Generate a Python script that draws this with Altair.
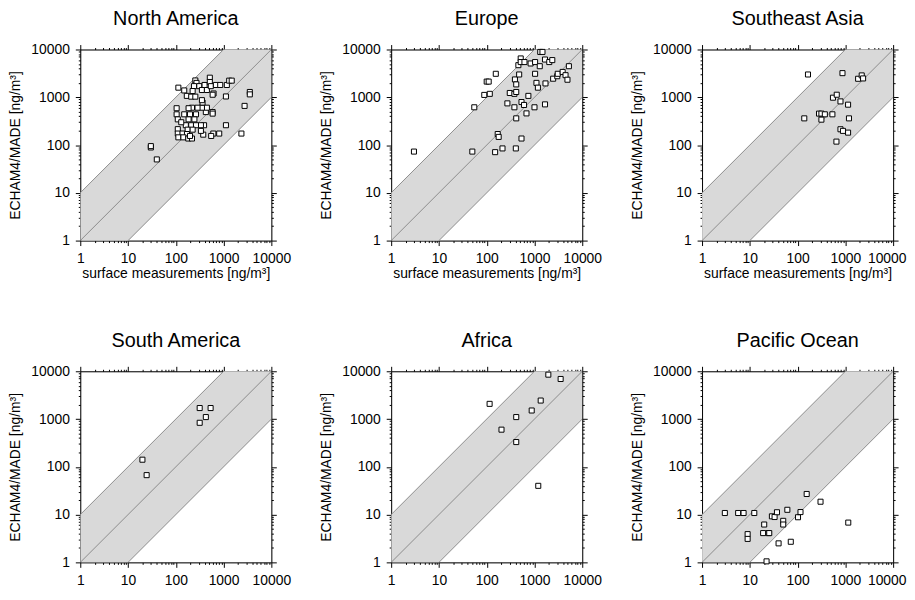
import altair as alt
import pandas as pd

regions = ["North America", "Europe", "Southeast Asia",
           "South America", "Africa", "Pacific Ocean"]

na_x = [30, 30, 40, 113, 150, 256, 271, 240, 225, 310, 352, 400, 447, 515, 515, 540,
        617, 590, 690, 850, 1170, 1310, 1480, 1120, 3540, 3540, 2750, 2360, 1120, 810,
        610, 550, 375, 335, 390, 335, 590, 590, 425, 447, 352, 363, 352, 285, 218, 185,
        104, 104, 110, 150, 198, 264, 185, 245, 162, 210, 264, 177, 225, 110, 110, 138,
        171, 113, 144, 182, 218, 198, 130, 170, 210, 256]
na_y = [89, 95, 50, 1590, 1390, 2250, 2000, 1710, 1350, 1710, 1420, 1810, 1420, 2570, 2090, 1710,
        1200, 1130, 1810, 1810, 1810, 2230, 2230, 1040, 1290, 1150, 660, 174, 260, 174,
        174, 155, 165, 198, 260, 260, 490, 455, 490, 605, 605, 775, 870, 605, 605, 590,
        590, 440, 345, 440, 440, 440, 345, 345, 260, 260, 260, 210, 210, 215, 174, 174,
        170, 145, 145, 137, 137, 155, 300, 1070, 1030, 1030]

eu_x = [3.0, 50, 55, 89, 116, 100, 110, 155, 170, 178, 150, 214, 407, 535, 271, 304,
        380, 415, 390, 415, 478, 460, 515, 515, 617, 380, 415, 535, 605, 680, 745, 830,
        1000, 1030, 1030, 1100, 1180, 1290, 1320, 1470, 1660, 1660, 1700, 2040, 2360,
        2460, 3000, 3070, 3890, 4470, 4900, 5250]
eu_y = [73, 73, 617, 1120, 1180, 2130, 2130, 3100, 170, 148, 71, 85, 85, 137, 745, 1230,
        1180, 1290, 2360, 1860, 3000, 4700, 6500, 5460, 5460, 617, 362, 795, 690, 460, 1070, 5100,
        617, 5460, 3100, 2000, 1590, 4470, 8900, 8900, 6170, 710, 1950, 5460, 6000,
        2450, 2760, 3100, 3390, 2900, 2330, 4470]

sea_x = [165, 138, 281, 315, 372, 315, 535, 550, 660, 790, 870, 1140, 1190, 790, 890,
         1140, 650, 1850, 2200, 2350]
sea_y = [3000, 362, 455, 455, 440, 340, 440, 980, 1130, 820, 3200, 700, 362, 214, 198,
         182, 118, 2440, 2870, 2480]

sa_x = [20, 24.5, 316, 316, 425, 535]
sa_y = [141, 67, 1700, 835, 1100, 1700]

af_x = [115, 204, 415, 415, 875, 1350, 1950, 3530, 1200]
af_y = [2080, 600, 1100, 330, 1510, 2440, 8500, 6900, 40]

po_x = [3.0, 5.7, 7.4, 12.4, 9.0, 9.0, 19, 20, 24.6, 25.5, 22.4, 29, 33, 37, 40, 50, 50,
        61, 72, 102, 115, 155, 302, 1150]
po_y = [10.8, 10.8, 10.8, 10.8, 3.9, 3.1, 4.1, 6.2, 4.1, 4.1, 1.05, 9.2, 8.9, 11.2, 2.5,
        7.4, 6.2, 12.6, 2.7, 8.8, 11.3, 27, 18.6, 6.8]

series = [(na_x, na_y), (eu_x, eu_y), (sea_x, sea_y),
          (sa_x, sa_y), (af_x, af_y), (po_x, po_y)]

# factor-of-10 band and 1:1 line
band_x = [1, 10000]
band_lo = [0.1, 1000]
band_hi = [10, 100000]
line_x = [1, 10000, 1, 10000, 1, 10000]
line_y = [0.1, 1000, 1, 10000, 10, 100000]
line_k = ["lo", "lo", "mid", "mid", "hi", "hi"]

tick_vals = [m * 10 ** e for e in range(4) for m in range(1, 10)] + [10000]
is_major = "indexof([1,10,100,1000,10000], datum.value) >= 0"
is_last = "datum.value == 10000"

FONT = "Liberation Sans"
XT = "surface measurements [ng/m³]"
YT = "ECHAM4/MADE [ng/m³]"


def make_axis(orient, labels, title, edge=False):
    kw = dict(
        orient=orient,
        values=tick_vals,
        labels=labels,
        grid=False,
        domainColor="black",
        tickColor="black",
        tickSize={"condition": {"test": is_major, "value": 5}, "value": 2},
        labelFont=FONT,
        labelFontSize=14,
        labelColor="black",
        labelPadding=6,
        labelOverlap=False,
        labelFlush=False,
        labelExpr=is_major + " ? format(datum.value, 'd') : ''",
    )
    if edge:
        kw.update(
            labelAlign={"condition": {"test": is_last, "value": "right"}, "value": "center"},
            labelOffset={"condition": {"test": is_last, "value": 13}, "value": 0},
        )
    if title is not None:
        kw.update(title=title, titleFont=FONT, titleFontSize=14,
                  titleFontWeight="normal", titleColor="black",
                  titlePadding=1 if orient == "bottom" else 8)
    else:
        kw.update(title=None)
    return alt.Axis(**kw)


band_df = pd.DataFrame({"x": band_x, "lo": band_lo, "hi": band_hi})
line_df = pd.DataFrame({"x": line_x, "y": line_y, "k": line_k})


def panel(name, xs, ys, xtitle, edge):
    xsc = alt.Scale(type="log", domain=[1, 10000], nice=False)
    ysc = alt.Scale(type="log", domain=[1, 10000], nice=False)
    band = alt.Chart(band_df).mark_area(color="#d9d9d9", clip=True, opacity=1).encode(
        x=alt.X("x:Q", scale=xsc, axis=make_axis("bottom", True, xtitle, edge)),
        y=alt.Y("lo:Q", scale=ysc, axis=make_axis("left", True, YT)),
        y2="hi:Q",
    )
    lines = alt.Chart(line_df).mark_line(color="#8c8c8c", strokeWidth=1, clip=True).encode(
        x=alt.X("x:Q", scale=xsc, axis=make_axis("top", False, None)),
        y=alt.Y("y:Q", scale=ysc, axis=make_axis("right", False, None)),
        detail="k:N",
    )
    df = pd.DataFrame({"x": xs, "y": ys})
    pts = alt.Chart(df).mark_square(fill="white", stroke="black", strokeWidth=1,
                                    size=26, opacity=1, filled=True).encode(
        x=alt.X("x:Q", scale=xsc, axis=None),
        y=alt.Y("y:Q", scale=ysc, axis=None),
    )
    return alt.layer(band, lines, pts).resolve_axis(x="independent", y="independent").properties(
        width=193, height=193,
        title=alt.TitleParams(name, font=FONT, fontSize=20, fontWeight="normal",
                              color="black", offset=14),
    )


panels = []
for i, (r, s) in enumerate(zip(regions, series)):
    xtitle = XT if i < 3 else None      # bottom-row axis titles fall below the visible page
    edge = (i % 3 == 2)
    panels.append(panel(r, s[0], s[1], xtitle, edge))

chart = alt.concat(*panels, columns=3, spacing=alt.RowColnumber(row=49, column=28)).properties(
    padding={"left": 0, "top": -3, "right": 0, "bottom": 0}
).configure_view(stroke="black", strokeWidth=1).configure(background="white")

chart.save("out.html", embed_options={"renderer": "svg", "actions": False})
